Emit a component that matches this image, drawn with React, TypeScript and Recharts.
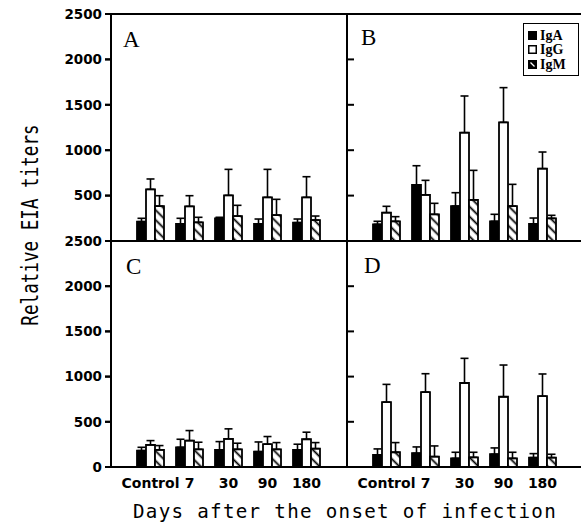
import React from 'react'
import { BarChart, Bar, XAxis, YAxis, ErrorBar, ReferenceLine, Legend } from 'recharts'

const days = ['Control', '7', '30', '90', '180']
const topTicks = [500, 1000, 1500, 2000, 2500]
const bottomTicks = [0, 500, 1000, 1500, 2000, 2500]
const innerTicks = [500, 1000, 1500, 2000]

// panel A
const aIgA = [213, 187, 250, 187, 202]
const aIgASd = [37, 63, 11, 55, 40]
const aIgG = [569, 382, 503, 481, 481]
const aIgGSd = [114, 117, 286, 308, 227]
const aIgM = [385, 206, 275, 286, 231]
const aIgMSd = [114, 55, 118, 173, 44]

// panel B
const bIgA = [184, 617, 385, 217, 187]
const bIgASd = [33, 212, 147, 77, 66]
const bIgG = [312, 507, 1193, 1307, 797]
const bIgGSd = [70, 161, 404, 382, 183]
const bIgM = [217, 294, 452, 385, 250]
const bIgMSd = [51, 121, 326, 239, 33]

// panel C
const cIgA = [181, 218, 189, 170, 189]
const cIgASd = [37, 89, 92, 107, 63]
const cIgG = [244, 292, 311, 252, 307]
const cIgGSd = [48, 111, 111, 85, 78]
const cIgM = [189, 196, 196, 196, 203]
const cIgMSd = [48, 78, 67, 74, 67]

// panel D
const dIgA = [133, 152, 96, 141, 104]
const dIgASd = [67, 70, 67, 70, 44]
const dIgG = [718, 829, 929, 777, 784]
const dIgGSd = [196, 203, 273, 351, 245]
const dIgM = [163, 115, 107, 96, 104]
const dIgMSd = [107, 118, 56, 67, 37]

function rows(igA, igASd, igG, igGSd, igM, igMSd) {
  return days.map((day, i) => ({
    day,
    igA: igA[i],
    igAErr: [0, igASd[i]],
    igG: igG[i],
    igGErr: [0, igGSd[i]],
    igM: igM[i],
    igMErr: [0, igMSd[i]],
  }))
}

const dataA = rows(aIgA, aIgASd, aIgG, aIgGSd, aIgM, aIgMSd)
const dataB = rows(bIgA, bIgASd, bIgG, bIgGSd, bIgM, bIgMSd)
const dataC = rows(cIgA, cIgASd, cIgG, cIgGSd, cIgM, cIgMSd)
const dataD = rows(dIgA, dIgASd, dIgG, dIgGSd, dIgM, dIgMSd)

const tickFont = { fontFamily: 'DejaVu Sans', fontWeight: 700, fill: '#000' }
const axisLine = { stroke: '#000', strokeWidth: 2 }

// plot rows of the two panel rows, same numbers as the chart margins below
const rowTop = { y: 14, h: 227 }
const rowBottom = { y: 241, h: 226 }
const tickY = (row, v) => row.y + (1 - v / 2500) * row.h

function OuterTick({ x, y, payload }) {
  return (
    <text x={x} y={y} dy="0.355em" textAnchor="end" fontFamily="DejaVu Sans" fontWeight={700} fontSize={13.5} fill="#000">
      {payload.value}
    </text>
  )
}

function bars() {
  const err = (key) => (
    <ErrorBar dataKey={key} width={4} stroke="#000" strokeWidth={1.6} direction="y" isAnimationActive={false} />
  )
  return [
    <Bar key="a" dataKey="igA" fill="#000" stroke="#000" strokeWidth={1.8} isAnimationActive={false}>
      {err('igAErr')}
    </Bar>,
    <Bar key="g" dataKey="igG" fill="#fff" stroke="#000" strokeWidth={1.8} isAnimationActive={false}>
      {err('igGErr')}
    </Bar>,
    <Bar key="m" dataKey="igM" fill="url(#hatch)" stroke="#000" strokeWidth={1.8} isAnimationActive={false}>
      {err('igMErr')}
    </Bar>,
  ]
}

function renderLegend() {
  const items = [
    { name: 'IgA', kind: 'a' },
    { name: 'IgG', kind: 'g' },
    { name: 'IgM', kind: 'm' },
  ]
  return (
    <div
      style={{
        border: '1.5px solid #000',
        width: 56,
        height: 53,
        boxSizing: 'border-box',
        padding: '4px 0 0 4px',
        overflow: 'hidden',
        background: '#fff',
        whiteSpace: 'nowrap',
      }}
    >
      {items.map((it) => (
        <div key={it.name} style={{ display: 'flex', alignItems: 'center', height: 14.5 }}>
          <svg width={9} height={9} style={{ marginRight: 3, flex: 'none' }}>
            <rect x={0.75} y={0.75} width={7.5} height={7.5} fill={it.kind === 'g' ? '#fff' : '#000'} stroke="#000" strokeWidth={1.5} />
            {it.kind === 'm' && <line x1={2.5} y1={2.5} x2={6.5} y2={6.5} stroke="#fff" strokeWidth={1.3} />}
          </svg>
          <span style={{ fontFamily: 'Liberation Serif', fontWeight: 700, fontSize: 14, lineHeight: '13px' }}>{it.name}</span>
        </div>
      ))}
    </div>
  )
}

function Panel({ data, left, top, width, height, margin, right, showX, padRight, legend }) {
  return (
    <div style={{ position: 'absolute', left, top }}>
      <BarChart width={width} height={height} data={data} margin={margin} barSize={9} barGap={0}>
        <XAxis
          dataKey="day"
          hide={!showX}
          padding={{ left: 20, right: padRight }}
          height={30}
          interval={0}
          tickLine={false}
          tickSize={0}
          tickMargin={11}
          axisLine={axisLine}
          tick={{ ...tickFont, fontSize: 14 }}
        />
        {right ? (
          <YAxis type="number" domain={[0, 2500]} hide />
        ) : (
          <YAxis
            type="number"
            domain={[0, 2500]}
            ticks={showX ? bottomTicks : topTicks}
            width={111}
            tickSize={6}
            tickMargin={3}
            tickLine={{ stroke: '#000', strokeWidth: 2 }}
            axisLine={axisLine}
            tick={OuterTick}
          />
        )}
        {!right && (
          <YAxis
            yAxisId="divider"
            orientation="right"
            type="number"
            domain={[0, 2500]}
            ticks={innerTicks}
            width={12}
            tick={false}
            tickLine={false}
            axisLine={axisLine}
          />
        )}
        <ReferenceLine y={2500} stroke="#000" strokeWidth={2} />
        {bars()}
        {legend && (
          <Legend
            layout="vertical"
            align="center"
            verticalAlign="middle"
            content={renderLegend}
            wrapperStyle={{ left: 176, top: 23, width: 56, height: 53 }}
          />
        )}
      </BarChart>
    </div>
  )
}

export default function App() {
  const topMargin = { top: 14, right: 0, bottom: 0, left: 0 }
  const bottomMargin = { top: 10, right: 0, bottom: 30, left: 0 }
  const outer = [
    ...topTicks.map((v) => tickY(rowTop, v)),
    ...bottomTicks.map((v) => tickY(rowBottom, v)),
  ]
  const inner = [
    ...innerTicks.map((v) => tickY(rowTop, v)),
    ...innerTicks.map((v) => tickY(rowBottom, v)),
  ]
  return (
    <div style={{ position: 'absolute', left: 0, top: 0, width: 581, height: 527, background: '#fff', overflow: 'hidden' }}>
      <svg width={0} height={0} style={{ position: 'absolute' }}>
        <defs>
          <pattern id="hatch" width={7} height={7} patternUnits="userSpaceOnUse" patternTransform="rotate(-45)">
            <rect width={7} height={7} fill="#fff" />
            <line x1={3.5} y1={0} x2={3.5} y2={7} stroke="#000" strokeWidth={1.8} />
          </pattern>
        </defs>
      </svg>
      <Panel data={dataB} left={347} top={0} width={234} height={241} margin={topMargin} padRight={19} right legend />
      <Panel data={dataD} left={347} top={231} width={234} height={296} margin={bottomMargin} padRight={19} showX right />
      <Panel data={dataA} left={0} top={0} width={359} height={241} margin={topMargin} padRight={21} />
      <Panel data={dataC} left={0} top={231} width={359} height={296} margin={bottomMargin} padRight={21} showX />
      <svg width={581} height={527} style={{ position: 'absolute', left: 0, top: 0, pointerEvents: 'none' }}>
        <g stroke="#000" strokeWidth={2}>
          {outer.map((y, i) => (
            <line key={'o' + i} x1={105} y1={y} x2={111} y2={y} />
          ))}
          {inner.map((y, i) => (
            <line key={'i' + i} x1={347} y1={y} x2={354} y2={y} />
          ))}
        </g>
        <g fontFamily="Liberation Serif" fontSize={23} fill="#000">
          <text x={123} y={47}>A</text>
          <text x={361} y={45}>B</text>
          <text x={126} y={274}>C</text>
          <text x={364} y={273}>D</text>
        </g>
        <text
          x={345}
          y={518}
          textAnchor="middle"
          fontFamily="DejaVu Sans Mono"
          fontSize={19.2}
          letterSpacing={1.3}
          fill="#000"
        >
          Days after the onset of infection
        </text>
        <text
          transform="translate(38,225) rotate(-90) scale(1,1.3)"
          textAnchor="middle"
          fontFamily="DejaVu Sans Mono"
          fontSize={17.6}
          fill="#000"
        >
          Relative EIA titers
        </text>
      </svg>
    </div>
  )
}
